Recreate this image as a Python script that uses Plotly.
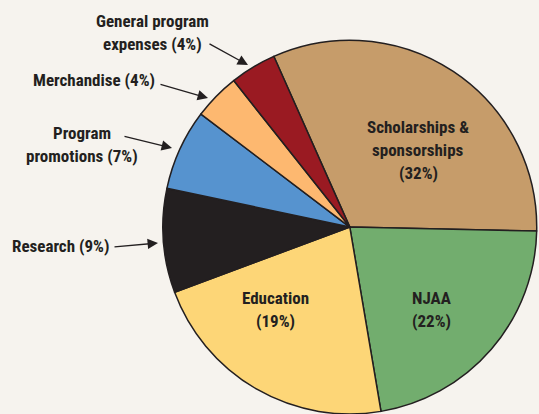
import plotly.graph_objects as go

# Data
categories = ["Scholarships & sponsorships", "NJAA", "Education", "Research",
              "Program promotions", "Merchandise", "General program expenses"]
slice_values = [32, 22, 22, 9, 7, 4, 4]          # slice sizes as drawn
label_percents = [32, 22, 19, 9, 7, 4, 4]        # percentages printed in labels
colors = ["#C69C6A", "#72AD6E", "#FDD677", "#231F20", "#5693CF", "#FDB870", "#9A1A22"]

W, H = 539, 414
TXT = "#231F20"
FONT = "Roboto Condensed, Open Sans Condensed, sans-serif"

fig = go.Figure(go.Pie(
    labels=categories,
    values=slice_values,
    sort=False,
    direction="clockwise",
    rotation=-24,
    marker=dict(colors=colors, line=dict(color="#231F20", width=1.5)),
    textinfo="none",
    hoverinfo="label+value",
    domain=dict(x=[0.302, 0.996], y=[0.0, 0.903]),
    showlegend=False,
))

def px(x):
    return x / W

def py(y):
    return 1 - y / H

# label text: (category index, line texts, center x, first-line y)
label_layout = {
    0: (["Scholarships &", "sponsorships", "({p}%)"], 418, 127),
    1: (["NJAA", "({p}%)"], 431, 298),
    2: (["Education", "({p}%)"], 275, 298),
    3: (["Research ({p}%)"], 60, 246),
    4: (["Program", "promotions ({p}%)"], 82, 133),
    5: (["Merchandise ({p}%)"], 94, 80),
    6: (["General program", "expenses ({p}%)"], 152, 21),
}
LINE = 23
annotations = []
for idx, (lines, cx, cy) in label_layout.items():
    for k, ln in enumerate(lines):
        annotations.append(dict(
            x=px(cx), y=py(cy + k * LINE), xref="paper", yref="paper",
            text=ln.format(p=label_percents[idx]), showarrow=False,
            xanchor="center", yanchor="middle",
            font=dict(family=FONT, size=17, color=TXT, weight="bold"),
        ))

# arrows: (tail x, tail y, head x, head y)
arrows = [
    (208, 43, 248, 65),
    (159, 84, 208, 98),
    (123, 136, 172, 148),
    (113, 247, 158, 243),
]
for tx, ty, hx, hy in arrows:
    annotations.append(dict(
        x=px(hx), y=py(hy), xref="paper", yref="paper",
        ax=tx - hx, ay=ty - hy, axref="pixel", ayref="pixel",
        text="", showarrow=True, arrowhead=2, arrowsize=1.6,
        arrowwidth=1.3, arrowcolor=TXT,
    ))

fig.update_layout(
    width=W, height=H,
    margin=dict(l=0, r=0, t=0, b=0),
    paper_bgcolor="#F6F3EE",
    plot_bgcolor="#F6F3EE",
    annotations=annotations,
)

fig.write_html("out.html", config={"displayModeBar": False},
               post_script="document.body.style.margin='0';")
